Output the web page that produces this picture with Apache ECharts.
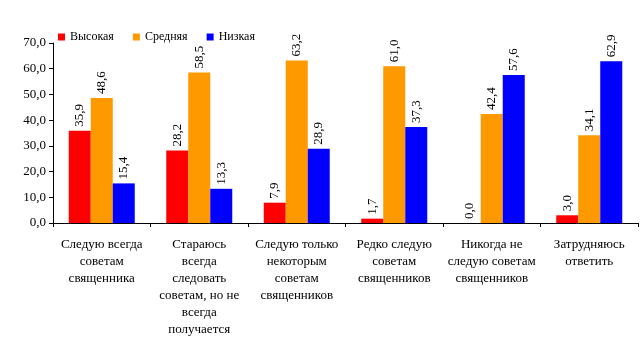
<!DOCTYPE html>
<html><head><meta charset="utf-8">
<script src="https://cdn.jsdelivr.net/npm/echarts@6/dist/echarts.min.js"></script>
<style>html,body{margin:0;padding:0;background:#fff}#c{width:644px;height:356px}</style>
</head><body><div id="c"></div>
<script>
var categories = [
  "Следую всегда\nсоветам\nсвященника",
  "Стараюсь\nвсегда\nследовать\nсоветам, но не\nвсегда\nполучается",
  "Следую только\nнекоторым\nсоветам\nсвященников",
  "Редко следую\nсоветам\nсвященников",
  "Никогда не\nследую советам\nсвященников",
  "Затрудняюсь\nответить"
];
var seriesNames = ["Высокая", "Средняя", "Низкая"];
var high = [35.9, 28.2, 7.9, 1.7, 0.0, 3.0];
var mid = [48.6, 58.5, 63.2, 61.0, 42.4, 34.1];
var low = [15.4, 13.3, 28.9, 37.3, 57.6, 62.9];
var colors = ["#FF0000", "#FF9900", "#0000FF"];
var FONT = "'Liberation Serif', 'Times New Roman', serif";
function fmt(v){ return Number(v).toFixed(1).replace('.', ','); }
function mk(name, data, color){
  return {
    name: name, type: 'bar', data: data, barWidth: 22, barGap: '0%',
    itemStyle: {color: color},
    label: {show: true, position: 'top', distance: 4, rotate: 90, align: 'left', verticalAlign: 'middle',
      fontFamily: FONT, fontSize: 13, color: '#000',
      formatter: function(p){ return fmt(p.value); }}
  };
}
var chart = echarts.init(document.getElementById('c'), null, {renderer: 'canvas'});
chart.setOption({
  animation: false,
  textStyle: {fontFamily: FONT},
  legend: {
    left: 53, top: 26, itemWidth: 7, itemHeight: 7, itemGap: 19, icon: 'rect',
    textStyle: {fontFamily: FONT, fontSize: 12, color: '#000', padding: [0,0,0,0]},
    data: seriesNames
  },
  grid: {left: 53, right: 6, top: 43, bottom: 133, containLabel: false},
  xAxis: {
    type: 'category', data: categories,
    axisLine: {lineStyle: {color: '#000', width: 1}},
    axisTick: {show: true, length: 4, lineStyle: {color: '#000'}},
    axisLabel: {interval: 0, margin: 13, fontFamily: FONT, fontSize: 13, color: '#000', lineHeight: 17, align: 'center'}
  },
  yAxis: {
    type: 'value', min: 0, max: 70, interval: 10,
    splitLine: {show: false},
    axisLine: {show: true, lineStyle: {color: '#000', width: 1}},
    axisTick: {show: true, length: 4, lineStyle: {color: '#000'}},
    axisLabel: {fontFamily: FONT, fontSize: 13, color: '#000', margin: 7, formatter: function(v){ return fmt(v); }}
  },
  series: [mk(seriesNames[0], high, colors[0]), mk(seriesNames[1], mid, colors[1]), mk(seriesNames[2], low, colors[2])]
});
</script></body></html>
